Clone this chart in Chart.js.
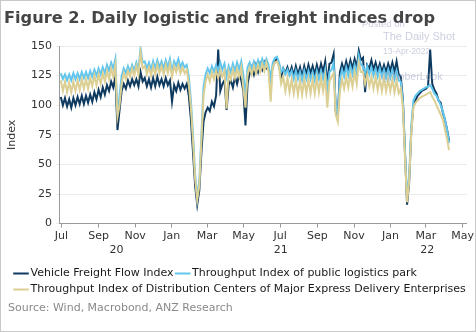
<!DOCTYPE html>
<html>
<head>
<meta charset="utf-8">
<script src="https://cdn.jsdelivr.net/npm/chart.js@4.4.1/dist/chart.umd.min.js"></script>
<style>
  body { margin: 0; background: #fff; }
  #wrap { position: relative; width: 476px; height: 332px; overflow: hidden; background: #fff; }
  #frame { position: absolute; left: 0; top: 0; width: 476px; height: 332px; box-sizing: border-box; border: 1px solid #c8c8c8; pointer-events: none; }
  .txt { position: absolute; white-space: nowrap; }
  #title { left: 4px; top: 10px; font: bold 16.2px/16px "DejaVu Sans", sans-serif; color: #454545; }
  #source { left: 8px; top: 301px; font: 11px/13px "DejaVu Sans", sans-serif; color: #8a8a8a; }
  .wm { font-family: "Liberation Sans", Arial, sans-serif; color: rgba(160,165,195,0.55); }
  canvas { position: absolute; left: 0; top: 0; }
</style>
</head>
<body>
<div id="wrap">
  <canvas id="chart" width="476" height="332"></canvas>
  <div class="txt" id="title">Figure 2. Daily logistic and freight indices drop</div>
  <div class="txt wm" style="left:362px;top:18px;font-size:9.5px;">Posted on</div>
  <div class="txt wm" style="left:383px;top:30px;font-size:11px;">The Daily Shot</div>
  <div class="txt wm" style="left:383px;top:46px;font-size:8.5px;">13-Apr-2022</div>
  <div class="txt wm" style="left:381px;top:70px;font-size:10.5px;">@SoberLook</div>
  <div class="txt" id="source">Source: Wind, Macrobond, ANZ Research</div>
  <div id="frame"></div>
</div>
<script>
// x = days since 1 Jul 2020, one value every half week
const X_START = -1;
const X_STEP = 3.5;

const SERIES_NAMES = [
  'Vehicle Freight Flow Index',
  'Throughput Index of public logistics park',
  'Throughput Index of Distribution Centers of Major Express Delivery Enterprises'
];

const vehicleFreight = [
  107,100,106,99,105,98,106,100,107,101,
  108,101,108,102,109,103,111,105,113,107,
  115,109,117,112,120,115,124,79,96,112,
  118,114,121,116,122,117,122,116,128,120,
  123,116,122,115,123,116,124,117,122,116,
  123,117,121,103,117,112,119,113,118,114,
  118,108,88,60,32,16,28,60,86,94,
  98,95,103,99,108,147,112,118,121,96,
  117,121,115,124,118,126,121,112,83,118,
  127,132,126,134,128,135,130,136,131,130,
  124,132,137,139,134,124,131,127,132,126,
  132,125,133,126,132,124,133,126,134,127,
  133,126,134,127,135,128,137,118,135,136,
  143,95,92,128,135,129,137,130,138,131,
  139,132,146,138,140,111,134,131,138,130,
  136,129,135,128,134,128,135,129,136,128,
  137,126,124,105,60,16,35,78,100,104,
  108,110,112,113,114,116,147,118,113,110,
  104,102,94,88,80,70
];

const logisticsPark = [
  127,122,126,121,126,121,127,122,127,122,
  128,123,128,123,129,124,130,125,131,126,
  132,127,134,129,136,131,139,92,108,125,
  131,127,133,128,134,129,136,130,148,136,
  137,131,136,130,137,131,138,132,137,131,
  138,132,139,128,137,133,139,132,136,132,
  134,124,104,75,42,22,36,75,115,126,
  131,127,133,128,134,129,136,130,135,124,
  133,128,135,129,136,130,137,125,108,132,
  136,131,137,132,138,133,139,134,139,134,
  122,136,140,141,136,128,131,126,130,125,
  129,122,129,122,128,121,129,122,129,122,
  128,121,129,122,129,122,130,112,128,130,
  136,100,92,122,130,124,132,125,133,126,
  134,127,142,134,133,127,133,126,132,125,
  131,124,131,124,130,123,130,123,130,122,
  129,121,120,104,62,22,40,82,104,108,
  110,112,113,114,115,116,117,114,110,108,
  104,100,95,88,80,68
];

const expressCenters = [
  121,112,120,111,119,111,120,112,121,113,
  122,114,122,114,123,116,125,117,126,118,
  127,120,129,122,131,124,134,90,100,118,
  127,122,129,124,131,125,133,126,145,131,
  133,126,132,125,133,126,134,127,133,126,
  134,127,135,124,133,128,134,127,132,127,
  130,118,98,70,38,20,32,70,108,120,
  126,120,128,122,129,123,130,124,129,97,
  128,122,130,123,131,124,132,114,98,126,
  132,126,133,127,134,128,135,129,136,128,
  103,132,136,137,132,118,124,112,123,111,
  122,110,121,109,121,109,122,110,122,110,
  122,110,123,111,123,112,124,98,120,124,
  127,92,86,112,122,114,124,115,126,116,
  128,118,136,128,128,118,126,116,124,114,
  124,113,123,112,123,112,122,112,122,111,
  121,110,114,98,55,18,36,76,98,102,
  104,106,107,108,109,110,111,107,104,100,
  96,92,88,80,72,62
];

// axis ticks (days since 1 Jul 2020)
const MONTH_DAYS = [0, 62, 123, 184, 243, 304, 365, 427, 488, 549, 608, 669];
const MONTH_LABELS = ['Jul', 'Sep', 'Nov', 'Jan', 'Mar', 'May', 'Jul', 'Sep', 'Nov', 'Jan', 'Mar', 'May'];
const YEAR_DAYS = [92, 366, 610];
const YEAR_LABELS = ['20', '21', '22'];
const Y_TICKS = [0, 25, 50, 75, 100, 125, 150];

const COLORS = ['#0f3a5f', '#62c6ee', '#dccf93'];

const FONT = { family: 'DejaVu Sans', size: 11 };
const X_MIN = -4, X_MAX = 676;

const toPoints = arr => arr.map((v, i) => ({ x: X_START + i * X_STEP, y: v }));

const datasets = [vehicleFreight, logisticsPark, expressCenters].map((arr, k) => ({
  label: SERIES_NAMES[k],
  data: toPoints(arr),
  borderColor: COLORS[k],
  backgroundColor: COLORS[k],
  borderWidth: 2,
  pointRadius: 0,
  tension: 0,
  order: 3 - k
}));

new Chart(document.getElementById('chart'), {
  type: 'line',
  data: { datasets },
  options: {
    responsive: false,
    animation: false,
    layout: { padding: { left: 12, right: 9, top: 46, bottom: 27 } },
    plugins: {
      tooltip: { enabled: false },
      legend: {
        position: 'bottom',
        align: 'start',
        labels: {
          usePointStyle: true,
          pointStyle: 'line',
          boxWidth: 8,
          padding: 5,
          color: '#1a1a1a',
          font: FONT,
          sort: (a, b) => a.datasetIndex - b.datasetIndex
        }
      }
    },
    scales: {
      x: {
        type: 'linear',
        min: X_MIN,
        max: X_MAX,
        afterBuildTicks: axis => { axis.ticks = MONTH_DAYS.map(v => ({ value: v })); },
        afterFit: axis => { axis.height = 17.4; },
        ticks: {
          autoSkip: false,
          maxRotation: 0,
          padding: 2,
          color: '#333',
          font: FONT,
          callback: (v, i) => MONTH_LABELS[i]
        },
        grid: { drawOnChartArea: false, drawTicks: true, tickLength: 4, color: '#9a9a9a' },
        border: { color: '#9a9a9a' }
      },
      x2: {
        type: 'linear',
        position: 'bottom',
        min: X_MIN,
        max: X_MAX,
        afterBuildTicks: axis => { axis.ticks = YEAR_DAYS.map(v => ({ value: v })); },
        afterFit: axis => { axis.height = 22; },
        ticks: {
          autoSkip: false,
          maxRotation: 0,
          padding: 3,
          color: '#333',
          font: FONT,
          callback: (v, i) => YEAR_LABELS[i]
        },
        grid: { display: false, drawTicks: false },
        border: { display: false }
      },
      y: {
        min: 0,
        max: 150,
        afterBuildTicks: axis => { axis.ticks = Y_TICKS.map(v => ({ value: v })); },
        afterFit: axis => { axis.width = 47; },
        ticks: { padding: 4, color: '#333', font: FONT },
        grid: { color: '#ebebeb', tickLength: 3 },
        border: { color: '#9a9a9a' },
        title: { display: true, text: 'Index', color: '#333', font: FONT, padding: { top: -6, bottom: 0 } }
      }
    }
  }
});
</script>
</body>
</html>
